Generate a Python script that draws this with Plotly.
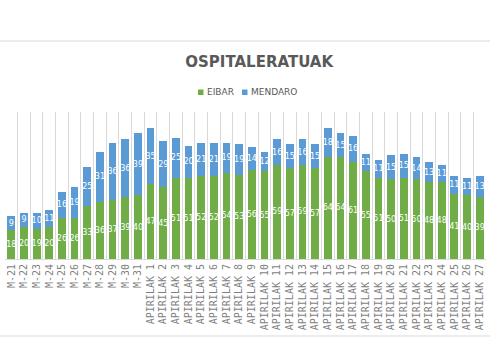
import plotly.graph_objects as go

categories = ["M-21", "M-22", "M-23", "M-24", "M-25", "M-26", "M-27", "M-28", "M-29", "M-30", "M-31",
              "APIRILAK 1", "APIRILAK 2", "APIRILAK 3", "APIRILAK 4", "APIRILAK 5", "APIRILAK 6",
              "APIRILAK 7", "APIRILAK 8", "APIRILAK 9", "APIRILAK 10", "APIRILAK 11", "APIRILAK 12",
              "APIRILAK 13", "APIRILAK 14", "APIRILAK 15", "APIRILAK 16", "APIRILAK 17", "APIRILAK 18",
              "APIRILAK 19", "APIRILAK 20", "APIRILAK 21", "APIRILAK 22", "APIRILAK 23", "APIRILAK 24",
              "APIRILAK 25", "APIRILAK 26", "APIRILAK 27"]

eibar = [18, 20, 19, 20, 26, 26, 33, 36, 37, 39, 40, 47, 45, 51, 51, 52, 52, 54, 53, 56, 55, 59,
         57, 59, 57, 64, 64, 61, 55, 51, 50, 51, 50, 48, 48, 41, 40, 39]
mendaro = [9, 9, 10, 11, 16, 19, 25, 31, 36, 36, 39, 35, 29, 25, 20, 21, 21, 19, 19, 14, 12, 16,
           15, 16, 15, 18, 15, 16, 11, 11, 15, 15, 14, 13, 11, 11, 11, 13]

series_names = ["EIBAR", "MENDARO"]

GREEN = "#70AD47"
BLUE = "#5B9BD5"
GRAY_TXT = "#595959"
TICK_TXT = "#7F7F7F"
GRID = "#D9D9D9"

fig = go.Figure()
for name, vals, col in [(series_names[0], eibar, GREEN), (series_names[1], mendaro, BLUE)]:
    fig.add_trace(go.Bar(
        x=categories, y=vals, name=name, marker=dict(color=col, line=dict(width=0)),
        text=vals, textposition="inside", insidetextanchor="middle", textangle=0,
        constraintext="none",
        textfont=dict(color="white", size=8, family="DejaVu Sans"),
        showlegend=False,
    ))

# plot area in pixels
left_px, right_px = 5, 486
top_px, bot_px = 112, 259
w = right_px - left_px
h = bot_px - top_px

def px(p):
    return (p - left_px) / w

def py(p):
    return (bot_px - p) / h

shapes = [
    dict(type="line", xref="paper", yref="paper", x0=-0.02, x1=1.02, y0=py(41), y1=py(41),
         line=dict(color=GRID, width=1)),
    dict(type="line", xref="paper", yref="paper", x0=-0.02, x1=1.02, y0=py(336), y1=py(336),
         line=dict(color=GRID, width=1)),
]
annotations = []
# custom legend (small squares + labels)
for name, col, sq_x, txt_x in [(series_names[0], GREEN, 198, 205), (series_names[1], BLUE, 242, 249)]:
    shapes.append(dict(type="rect", xref="paper", yref="paper",
                       x0=px(sq_x), x1=px(sq_x + 5.5), y0=py(95), y1=py(89.5),
                       fillcolor=col, line=dict(width=0)))
    annotations.append(dict(text=name, xref="paper", yref="paper", x=px(txt_x), y=py(92),
                            xanchor="left", yanchor="middle", showarrow=False,
                            font=dict(family="DejaVu Sans", size=9, color=GRAY_TXT)))

fig.update_layout(
    width=490, height=360,
    barmode="stack", bargap=0.39,
    paper_bgcolor="white", plot_bgcolor="white",
    margin=dict(l=left_px, r=490 - right_px, t=top_px, b=360 - bot_px),
    showlegend=False,
    title=dict(text="OSPITALERATUAK", xref="container", x=0.529, xanchor="center",
               yref="container", y=1 - 62 / 360, yanchor="middle",
               font=dict(family="DejaVu Sans", size=15, color=GRAY_TXT, weight="bold")),
    xaxis=dict(type="category", tickson="boundaries", showgrid=True, gridcolor=GRID, gridwidth=1,
               ticks="", tickangle=-90, showline=True, linecolor=GRID, linewidth=1,
               tickfont=dict(family="DejaVu Sans Mono", size=10, color=TICK_TXT),
               automargin=False, fixedrange=True),
    yaxis=dict(range=[0, 92.2], visible=False, showgrid=False, zeroline=False, fixedrange=True),
    shapes=shapes,
    annotations=annotations,
)

fig.write_html("out.html", config={"displayModeBar": False},
               post_script="document.body.style.margin='0px';document.body.style.overflow='hidden';")
